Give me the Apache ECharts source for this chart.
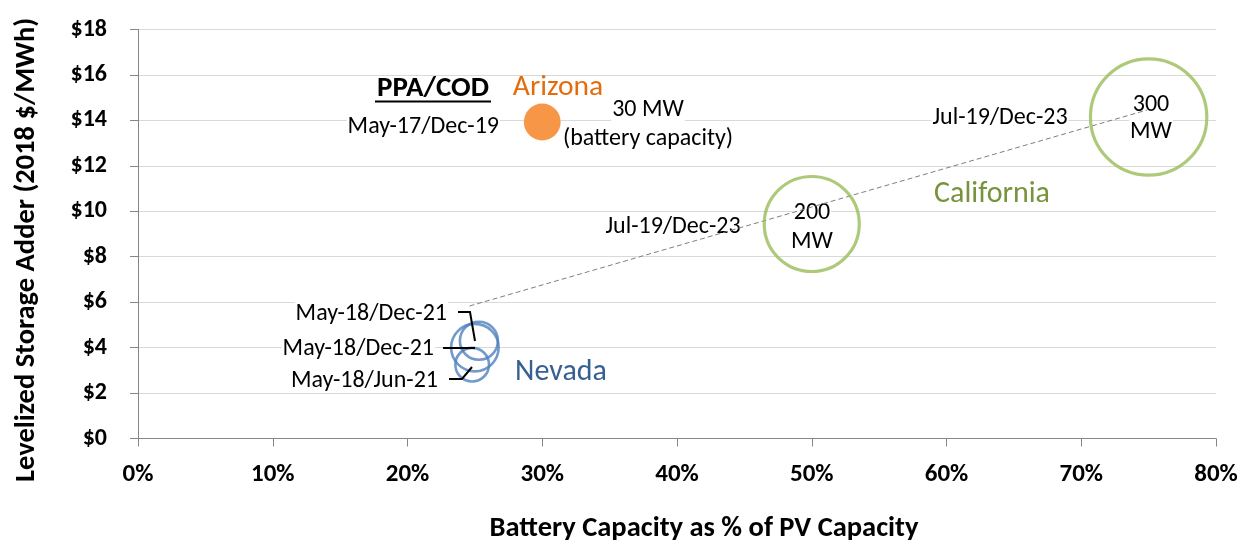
<!DOCTYPE html>
<html><head><meta charset="utf-8">
<script src="https://cdn.jsdelivr.net/npm/echarts@6/dist/echarts.min.js"></script>
<style>html,body{margin:0;padding:0;background:#fff}#c{width:1241px;height:541px}</style>
</head><body><div id="c"></div>
<script>
// ---- data ----
const xTicks = [0, 10, 20, 30, 40, 50, 60, 70, 80];
const yTicks = [0, 2, 4, 6, 8, 10, 12, 14, 16, 18];
const arizonaX = [30];
const arizonaY = [13.93];
const arizonaMW = [30];
const arizonaDates = ['May-17/Dec-19'];
const californiaX = [50, 75];
const californiaY = [9.44, 14.15];
const californiaMW = [200, 300];
const californiaDates = ['Jul-19/Dec-23', 'Jul-19/Dec-23'];
const nevadaX = [25.3, 25.0, 24.8];
const nevadaY = [4.3, 4.0, 3.25];
const nevadaMW = [32, 50, 25];
const nevadaDates = ['May-18/Dec-21', 'May-18/Dec-21', 'May-18/Jun-21'];
const trendX = [24.6, 74.9];
const trendY = [5.83, 14.46];

const FONT = 'Carlito, Lato, sans-serif';
const sizeOf = mw => 6.72 * Math.sqrt(mw);
const pts = (xs, ys, ms) => xs.map((x, i) => ms ? [x, ys[i], ms[i]] : [x, ys[i]]);

const chart = echarts.init(document.getElementById('c'), null, {renderer: 'canvas'});
const txt = (x, y, s, opt = {}, bg = true) => ({
  type: 'text', x: x, y: y, silent: true, z: 1,
  style: Object.assign({text: s, fontFamily: FONT, fontSize: 24, fill: '#000', align: 'center', verticalAlign: 'middle',
    backgroundColor: bg ? '#fff' : null, padding: bg ? [0, 1] : 0}, opt)
});
const line = (points, opt = {}) => ({
  type: 'polyline', silent: true, z: 3, shape: {points: points},
  style: Object.assign({stroke: '#000', lineWidth: 2, fill: null}, opt)
});

chart.setOption({
  animation: false,
  grid: {left: 138, right: 25, top: 29.5, bottom: 102.5},
  xAxis: {
    type: 'value', min: 0, max: 80, interval: 10,
    axisLine: {show: true, lineStyle: {color: '#868686', width: 1}},
    axisTick: {show: true, length: 8, lineStyle: {color: '#868686'}},
    splitLine: {show: false},
    axisLabel: {formatter: v => v + '%', fontFamily: FONT, fontWeight: 'bold', fontSize: 25, color: '#000', margin: 24}
  },
  yAxis: {
    type: 'value', min: 0, max: 18, interval: 2,
    axisLine: {show: true, lineStyle: {color: '#868686', width: 1}},
    axisTick: {show: true, length: 8, lineStyle: {color: '#868686'}},
    splitLine: {show: true, lineStyle: {color: '#D9D9D9', width: 1}},
    axisLabel: {formatter: v => '$' + v, fontFamily: FONT, fontWeight: 'bold', fontSize: 24, color: '#000', margin: 31}
  },
  series: [
    {type: 'line', data: pts(trendX, trendY), symbol: 'none', z: 2,
     lineStyle: {color: '#7F7F7F', width: 1, type: [5, 3]}},
    {type: 'scatter', name: 'Arizona', data: pts(arizonaX, arizonaY, arizonaMW), z: 2,
     symbolSize: d => sizeOf(d[2]), itemStyle: {color: '#F79646', opacity: 1}},
    {type: 'scatter', name: 'California', data: pts(californiaX, californiaY, californiaMW), z: 2,
     symbolSize: d => sizeOf(d[2]),
     itemStyle: {color: 'rgba(0,0,0,0)', borderColor: '#9BBB59', borderWidth: 3.2}},
    {type: 'scatter', name: 'Nevada', data: pts(nevadaX, nevadaY, nevadaMW), z: 2,
     symbolSize: d => sizeOf(d[2]),
     itemStyle: {color: 'rgba(0,0,0,0)', borderColor: '#4F81BD', borderWidth: 2.6}}
  ],
  graphic: [
    txt(27, 250, 'Levelized Storage Adder (2018 $/MWh)', {fontWeight: 'bold', fontSize: 28.5}, false),
    {type: 'text', x: 704, y: 529, silent: true, z: 1,
     style: {text: 'Battery Capacity as % of PV Capacity', fontFamily: FONT, fontWeight: 'bold', fontSize: 28.5,
       fill: '#000', align: 'center', verticalAlign: 'middle'}},
    txt(433, 89, 'PPA/COD', {fontWeight: 'bold', fontSize: 29}, false),
    line([[375, 101.5], [491, 101.5]], {lineWidth: 2}),
    txt(558, 88, 'Arizona', {fontSize: 29.5, fill: '#E46C0A'}, false),
    txt(500, 127, arizonaDates[0], {align: 'right'}),
    txt(648, 110, arizonaMW[0] + ' MW'),
    txt(648, 139, '(battery capacity)'),
    txt(673, 227, californiaDates[0]),
    txt(812, 213, String(californiaMW[0])),
    txt(812, 242, 'MW'),
    txt(1000, 118, californiaDates[1]),
    txt(1151, 105, String(californiaMW[1])),
    txt(1151, 132, 'MW'),
    txt(992, 194, 'California', {fontSize: 30, fill: '#77933C'}),
    txt(561, 372, 'Nevada', {fontSize: 30, fill: '#366092'}),
    txt(448, 314, nevadaDates[0], {align: 'right'}),
    txt(435, 349, nevadaDates[1], {align: 'right'}),
    txt(439, 381, nevadaDates[2], {align: 'right'}),
    line([[458, 312], [470, 312], [475, 341]]),
    line([[443, 348], [475, 348]]),
    line([[449, 379], [462, 379], [472, 367]])
  ]
});
// rotate the y-axis title
const opt = chart.getOption();
opt.graphic[0].elements[0].rotation = Math.PI / 2;
chart.setOption({graphic: opt.graphic});
</script></body></html>
